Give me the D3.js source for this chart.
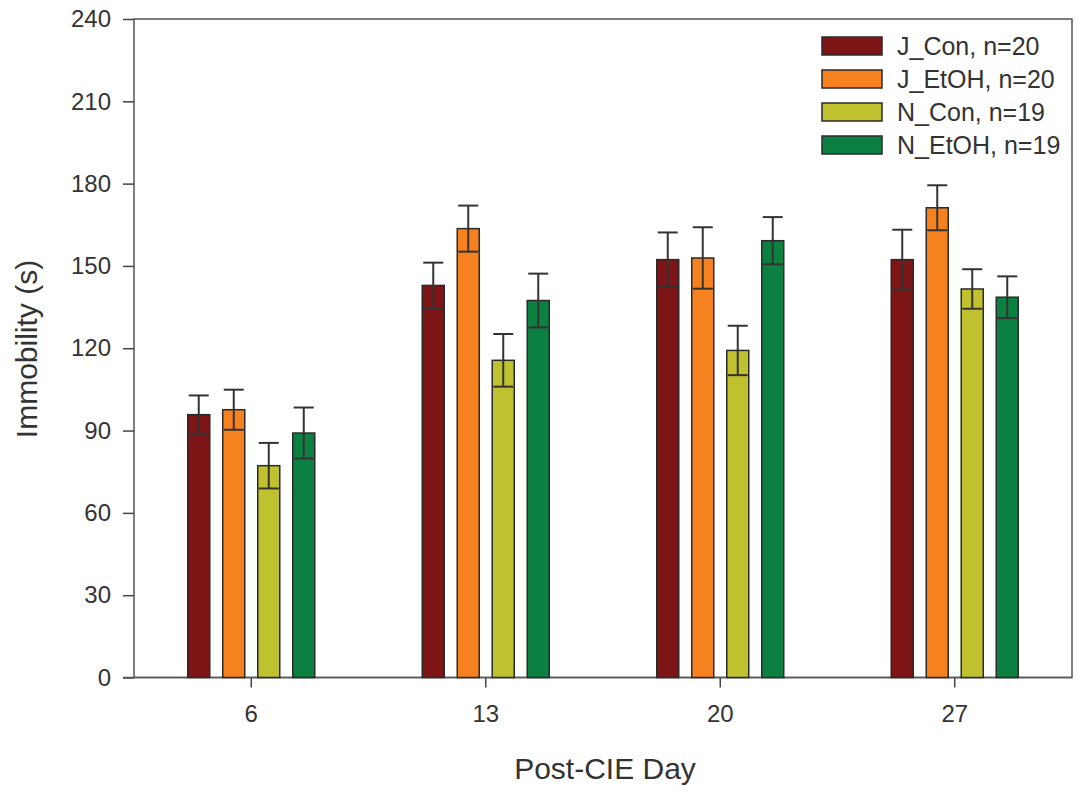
<!DOCTYPE html>
<html><head><meta charset="utf-8">
<script src="https://cdn.jsdelivr.net/npm/d3@7"></script>
<style>body{margin:0;background:#fff}svg{display:block}text{font-family:"Liberation Sans",Arial,sans-serif;fill:#333}</style>
</head><body><svg id="c" width="1080" height="793"></svg>
<script>
const days = ["6","13","20","27"];
const series = ["J_Con, n=20","J_EtOH, n=20","N_Con, n=19","N_EtOH, n=19"];
const colors = ["#7d1416","#f5821f","#bfc12f","#0c8040"];
const jCon = [95.8,142.9,152.3,152.3];
const jEtOH = [97.6,163.6,152.9,171.2];
const nCon = [77.2,115.6,119.2,141.6];
const nEtOH = [89.1,137.4,159.2,138.6];
const jConErr = [7.0,8.3,9.9,10.9];
const jEtOHErr = [7.3,8.4,11.2,8.2];
const nConErr = [8.3,9.6,9.0,7.2];
const nEtOHErr = [9.3,9.8,8.6,7.6];
const yTicks = [0,30,60,90,120,150,180,210,240];

const values = [jCon,jEtOH,nCon,nEtOH];
const errs = [jConErr,jEtOHErr,nConErr,nEtOHErr];

const svg = d3.select("#c");
const L=134,R=1072,T=19,B=677.5;
const x = d3.scaleBand().domain(days).range([L,R]).padding(0);
const xi = d3.scaleBand().domain(series).range([-70,70]).paddingInner(0.371).paddingOuter(0.1855);
const y = d3.scaleLinear().domain([0,240]).range([B,T]);

// frame
svg.append("rect").attr("x",L).attr("y",T).attr("width",R-L).attr("height",B-T)
  .attr("fill","none").attr("stroke","#555").attr("stroke-width",1.5);

// axes
const ya = svg.append("g").attr("transform",`translate(${L},0)`)
  .call(d3.axisLeft(y).tickValues(yTicks).tickSize(11).tickPadding(12));
ya.selectAll("text").style("font-size","24px").attr("fill","#333");
const xa = svg.append("g").attr("transform",`translate(0,${B})`)
  .call(d3.axisBottom(x).tickSize(10).tickPadding(17));
xa.selectAll("text").style("font-size","24px").attr("fill","#333");
[ya,xa].forEach(a=>{a.select(".domain").remove();a.selectAll("line").attr("stroke","#444").attr("stroke-width",1.5);});
svg.append("line").attr("x1",L-11).attr("x2",R).attr("y1",B).attr("y2",B).attr("stroke","#555").attr("stroke-width",1.5);

// bars
series.forEach((s,si)=>{
  const g = svg.append("g");
  days.forEach((d,di)=>{
    const cx = x(d)+x.bandwidth()/2 + xi(s) + xi.bandwidth()/2;
    const v = values[si][di], e = errs[si][di];
    const bw = xi.bandwidth();
    g.append("rect").attr("x",cx-bw/2).attr("y",y(v)).attr("width",bw).attr("height",y(0)-y(v))
      .attr("fill",colors[si]).attr("stroke","#2a2a2a").attr("stroke-width",1.5);
    const cw = 10;
    g.append("line").attr("x1",cx).attr("x2",cx).attr("y1",y(v+e)).attr("y2",y(v-e)).attr("stroke","#333").attr("stroke-width",2);
    [v+e,v-e].forEach(t=>g.append("line").attr("x1",cx-cw).attr("x2",cx+cw).attr("y1",y(t)).attr("y2",y(t)).attr("stroke","#333").attr("stroke-width",2));
  });
});

// legend
const lg = svg.append("g");
series.forEach((s,i)=>{
  const yy = 46 + i*33;
  lg.append("rect").attr("x",822).attr("y",yy-9).attr("width",60).attr("height",18)
    .attr("fill",colors[i]).attr("stroke","#2a2a2a").attr("stroke-width",1.5);
  lg.append("text").attr("x",897).attr("y",yy+9).style("font-size","25px").text(s);
});

// axis titles
svg.append("text").attr("transform","translate(37,349) rotate(-90)").attr("text-anchor","middle")
  .style("font-size","30px").text("Immobility (s)");
svg.append("text").attr("x",605).attr("y",779).attr("text-anchor","middle")
  .style("font-size","30px").text("Post-CIE Day");
</script></body></html>
